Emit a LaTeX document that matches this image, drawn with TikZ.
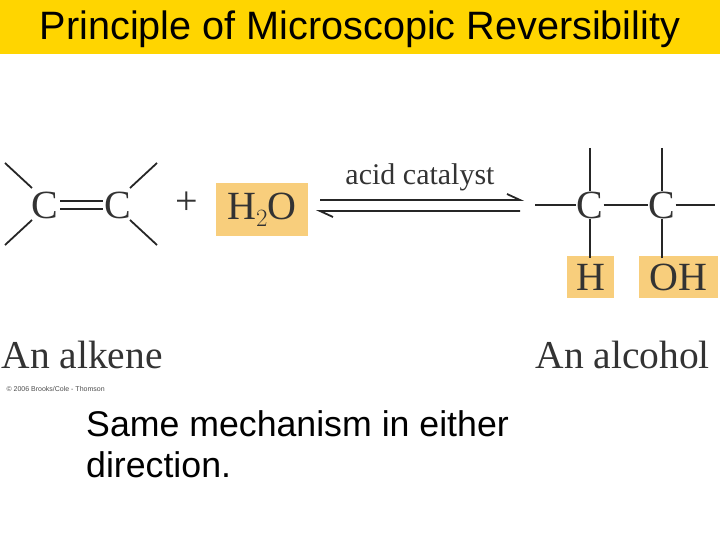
\documentclass[tikz,border=0pt]{standalone}
\usepackage{fontspec}
\setmainfont{Liberation Serif}
\newfontfamily\sans{Liberation Sans}
\begin{document}
\begin{tikzpicture}[x=1pt,y=-1pt,
  chem/.style={font=\fontsize{40}{40}\selectfont, text=black!80, inner sep=0pt},
  bond/.style={line width=1.8pt, black!85}]
\definecolor{titlebg}{HTML}{FFD500}
\definecolor{hlc}{HTML}{F8CE7C}
\useasboundingbox (0,0) rectangle (720,540);
\fill[titlebg] (0,0) rectangle (720,54);
\node[font=\sans\fontsize{39.6}{40}\selectfont] (title) at (360,29) {Principle of Microscopic Reversibility};
% alkene
\node[chem] (c1) at (45,205) {C};
\node[chem] (c2) at (118,205) {C};
\draw[bond] (60,201) -- (103,201) (60,209) -- (103,209);
\draw[bond] (5,163) -- (32,188) (5,245) -- (32,220) (157,163) -- (130,188) (130,220) -- (157,245);
\node[chem] (plus) at (187,203) {+};
\fill[hlc] (216,183) rectangle (308,236);
\node[chem] (h2o) at (262,210) {H$_2$O};
% arrows
\node[font=\fontsize{30}{30}\selectfont, text=black!80] (cat) at (420,177) {acid catalyst};
\coordinate (a1) at (320,200); \coordinate (a2) at (520,200);
\coordinate (b1) at (320,211); \coordinate (b2) at (520,211);
\draw[bond] (a1) -- (a2) -- (507,194);
\draw[bond] (b2) -- (b1) -- (333,217);
% alcohol
\fill[hlc] (567,256) rectangle (614,298);
\fill[hlc] (639,256) rectangle (718,298);
\node[chem] (c3) at (590,205) {C};
\node[chem] (c4) at (662,205) {C};
\node[chem] (h) at (591,277) {H};
\node[chem] (oh) at (678,277) {OH};
\draw[bond] (535,205) -- (c3.west) (c3.east) -- (c4.west) (c4.east) -- (715,205);
\draw[bond] (590,148) -- (c3.north) (662,148) -- (c4.north);
\draw[bond] (c3.south) -- (590,258) (c4.south) -- (662,258);
% labels
\node[anchor=west, font=\fontsize{39.5}{40}\selectfont, text=black!80] (alk) at (-2,355) {An alkene};
\node[anchor=west, font=\fontsize{39.5}{40}\selectfont, text=black!80] (alc) at (532,355) {An alcohol};
\node[anchor=west, font=\sans\fontsize{7}{7}\selectfont, text=black!70] (copy) at (3,389) {\textcopyright\ 2006 Brooks/Cole - Thomson};
\node[anchor=north west, align=left, font=\sans\fontsize{35.7}{41}\selectfont, inner sep=0pt] (same) at (86,410) {Same mechanism in either\\direction.};
\end{tikzpicture}
\end{document}
